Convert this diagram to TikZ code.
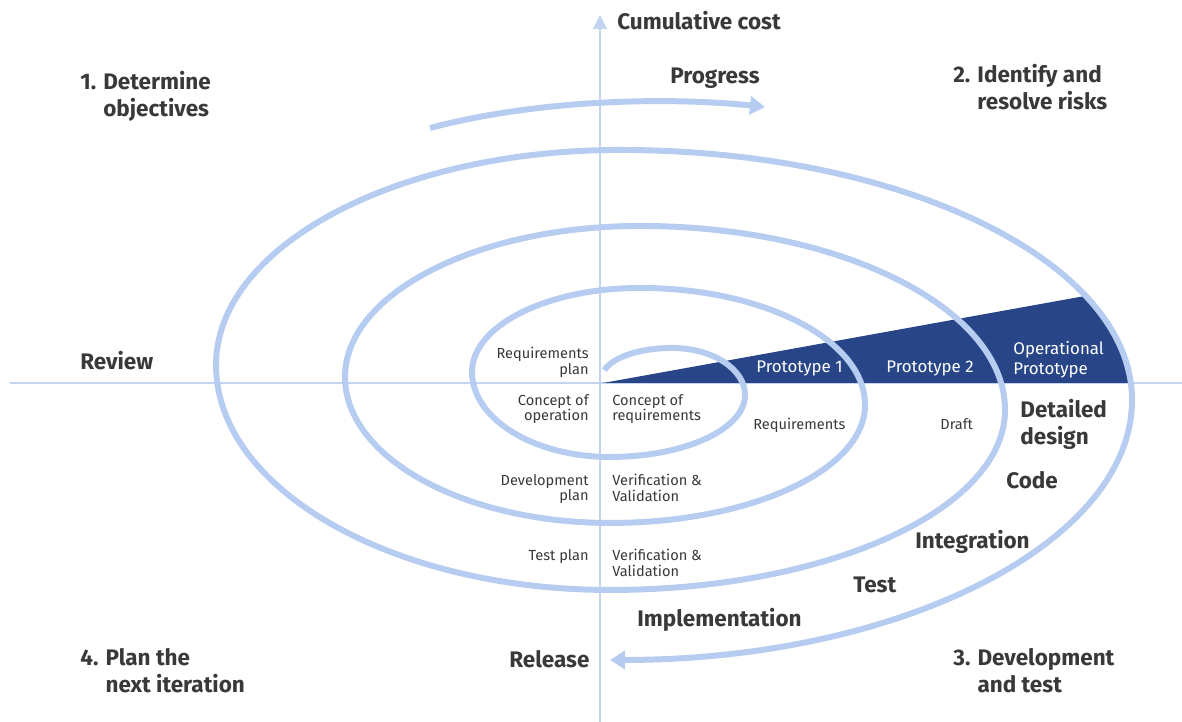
\documentclass[tikz,border=0pt]{standalone}
\usepackage{fontspec}
\setmainfont{Fira Sans}
\usetikzlibrary{arrows.meta}

\definecolor{spiral}{RGB}{182,204,240}
\definecolor{axisblue}{RGB}{195,211,240}
\definecolor{wedge}{RGB}{40,70,135}
\definecolor{ink}{RGB}{59,56,56}

\begin{document}
\begin{tikzpicture}[
    x=0.02cm, y=0.02cm,
    axis/.style={draw=axisblue, line width=0.8pt},
    loop/.style={draw=spiral, line width=3.4pt},
    head/.style={-{Triangle[width=0.36cm, length=0.3cm]}},
    big/.style={text=ink, font=\bfseries\fontsize{12.8}{15.3}\selectfont, align=left, inner sep=0pt},
    small/.style={text=ink, font=\fontsize{8.3}{8.7}\selectfont, inner sep=0pt},
    proto/.style={text=white, font=\fontsize{9.6}{11.3}\selectfont, inner sep=0pt, align=left}
]
\useasboundingbox (-600,-339) rectangle (582,383);

% axes
\coordinate (west) at (-590,0);
\coordinate (east) at (582,0);
\coordinate (south) at (0,-339);
\coordinate (north) at (0,368);
\draw[axis] (west) -- (east);
\draw[axis, -{Triangle[width=0.28cm, length=0.28cm]}] (south) -- (north);

% prototype wedge, closed by the outer loop
\fill[wedge] (3,0) -- (485.5,87.1)
    arc[start angle=24.6, end angle=3.9, x radius=512, y radius=250] -- cycle;

% spiral, one quarter ellipse at a time
\draw[loop, head] (4.4,12.8)
    arc[start angle=165, end angle=90, x radius=70, y radius=30]
    arc[start angle=90, end angle=0, x radius=73, y radius=47]
    arc[start angle=0, end angle=-90, x radius=135, y radius=62]
    arc[start angle=-90, end angle=-180, x radius=138, y radius=85]
    arc[start angle=180, end angle=90, x radius=168, y radius=84]
    arc[start angle=90, end angle=0, x radius=225, y radius=117]
    arc[start angle=0, end angle=-90, x radius=255, y radius=118]
    arc[start angle=-90, end angle=-180, x radius=265, y radius=146]
    arc[start angle=180, end angle=90, x radius=295, y radius=151]
    arc[start angle=90, end angle=0, x radius=365, y radius=184]
    arc[start angle=0, end angle=-90, x radius=395, y radius=180]
    arc[start angle=-90, end angle=-180, x radius=394, y radius=225]
    arc[start angle=180, end angle=90, x radius=404, y radius=215]
    arc[start angle=90, end angle=0, x radius=512, y radius=250]
    arc[start angle=0, end angle=-90, x radius=522, y radius=260];

% progress arrow
\coordinate (pstart) at (-170,255);
\coordinate (pend) at (165,276);
\draw[loop, head] (pstart) .. controls (-60,284) and (70,286) .. (pend);

% quadrant titles
\node[big, anchor=north west] (objectives) at (-520,312) {1. Determine\\\hphantom{1. }objectives};
\node[big, anchor=north west] (risks) at (353,319) {2. Identify and\\\hphantom{2. }resolve risks};
\node[big, anchor=north west] (devtest) at (353,-265) {3. Development\\\hphantom{3. }and test};
\node[big, anchor=north west] (nextiter) at (-520,-265) {4. Plan the\\\hphantom{4. }next iteration};

% axis and arrow labels
\node[big, anchor=base west] (cost) at (17,353) {Cumulative cost};
\node[big, anchor=base west] (progress) at (70,299) {Progress};
\node[big, anchor=base west] (review) at (-520,13) {Review};
\node[big, anchor=base west] (release) at (-91,-284) {Release};

% development steps
\node[big, anchor=north west] (detailed) at (420,-16) {Detailed\\design};
\node[big, anchor=base west] (code) at (406,-106) {Code};
\node[big, anchor=base west] (integration) at (315,-166) {Integration};
\node[big, anchor=base west] (test) at (253,-210) {Test};
\node[big, anchor=base west] (impl) at (37,-244) {Implementation};

% planning side
\node[small, anchor=north east, align=right] (reqplan) at (-11,36) {Requirements\\plan};
\node[small, anchor=north east, align=right] (conop) at (-11,-11) {Concept of\\operation};
\node[small, anchor=north east, align=right] (devplan) at (-11,-91) {Development\\plan};
\node[small, anchor=north east, align=right] (testplan) at (-11,-166) {Test plan};

% checking side
\node[small, anchor=north west, align=left] (conreq) at (12,-11) {Concept of\\requirements};
\node[small, anchor=north west, align=left] (vv1) at (12,-91) {Verification \&\\Validation};
\node[small, anchor=north west, align=left] (vv2) at (12,-166) {Verification \&\\Validation};
\node[small, anchor=north west] (requirements) at (153,-35) {Requirements};
\node[small, anchor=north west] (draft) at (340,-35) {Draft};

% prototypes inside the wedge
\node[proto, anchor=north west] (proto1) at (156,22) {Prototype 1};
\node[proto, anchor=north west] (proto2) at (286,22) {Prototype 2};
\node[proto, anchor=north west] (opproto) at (413,42) {Operational\\Prototype};

\end{tikzpicture}
\end{document}
